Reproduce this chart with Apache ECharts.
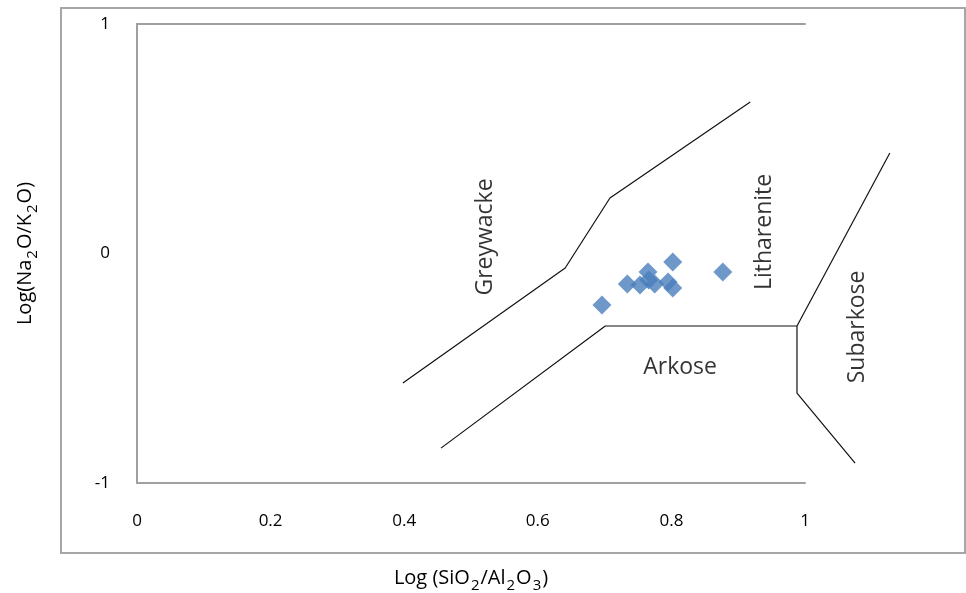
<!DOCTYPE html>
<html>
<head>
<meta charset="utf-8">
<script src="https://cdn.jsdelivr.net/npm/echarts@6/dist/echarts.min.js"></script>
<style>
html,body{margin:0;padding:0;background:#fff;overflow:hidden;}
#c{width:966px;height:593px;}
</style>
</head>
<body>
<div id="c"></div>
<script>
// Sample points: [log(SiO2/Al2O3), log(Na2O/K2O)]
var samplesX = [0.696, 0.734, 0.753, 0.765, 0.766, 0.775, 0.795, 0.802, 0.802, 0.877];
var samplesY = [-0.224, -0.133, -0.137, -0.081, -0.115, -0.133, -0.124, -0.150, -0.037, -0.081];

// Field boundaries (data coordinates)
var boundaryUpperX = [0.398, 0.641, 0.708, 0.918];
var boundaryUpperY = [-0.564, -0.063, 0.242, 0.660];
var boundaryLowerX = [0.455, 0.701, 0.988, 0.988, 1.075];
var boundaryLowerY = [-0.848, -0.316, -0.316, -0.608, -0.913];
var boundarySubX = [0.988, 1.127];
var boundarySubY = [-0.316, 0.438];

// Field names
var fieldNames = ['Greywacke', 'Litharenite', 'Subarkose', 'Arkose'];
var fieldX = [0.521, 0.940, 1.079, 0.813];
var fieldY = [0.072, 0.094, -0.320, -0.495];
var fieldRotate = [90, 90, 90, 0];

var xTicks = [0, 0.2, 0.4, 0.6, 0.8, 1];
var yTicks = [-1, 0, 1];

function zip(a, b) { return a.map(function (v, i) { return [v, b[i]]; }); }

var FONT = '"Open Sans", "Noto Sans", sans-serif';
var AXISCOL = '#a0a0a0';
var PLOT_LEFT = 137, PLOT_TOP = 24, PLOT_W = 668, PLOT_H = 459;
var OVER_MAX = 1.2;

var chart = echarts.init(document.getElementById('c'), null, { width: 966, height: 593 });

function boundary(xs, ys) {
  return {
    type: 'line', xAxisIndex: 2, yAxisIndex: 1, data: zip(xs, ys), symbol: 'none', silent: true,
    lineStyle: { color: '#111', width: 1.2 }, z: 3
  };
}

var richName = {
  a: { fontSize: 20, fontFamily: FONT, color: '#000', lineHeight: 26, verticalAlign: 'bottom' },
  s: { fontSize: 15, fontFamily: FONT, color: '#000', lineHeight: 26, verticalAlign: 'bottom', padding: [0, 1, -5, 1] }
};

var option = {
  animation: false,
  backgroundColor: '#fff',
  grid: [
    { left: PLOT_LEFT, top: PLOT_TOP, width: PLOT_W, height: PLOT_H, containLabel: false, outerBoundsMode: 'none' },
    { left: PLOT_LEFT, top: PLOT_TOP, width: PLOT_W * OVER_MAX, height: PLOT_H, containLabel: false, outerBoundsMode: 'none' }
  ],
  graphic: [{
    type: 'rect', shape: { x: 61, y: 8, width: 904, height: 545 },
    style: { fill: 'none', stroke: '#a6a6a6', lineWidth: 2 }, silent: true, z: 0
  }],
  xAxis: [{
    gridIndex: 0, type: 'value', min: 0, max: 1, interval: 0.2,
    axisLine: { show: true, onZero: false, lineStyle: { color: AXISCOL, width: 2 } },
    axisTick: { show: false }, splitLine: { show: false },
    axisLabel: {
      color: '#000', fontSize: 17, fontFamily: FONT, margin: 30,
      formatter: function (v) { var r = Math.round(v * 10) / 10; return xTicks.indexOf(r) >= 0 ? String(r) : ''; }
    },
    name: '{a|Log (SiO}{s|2}{a|/Al}{s|2}{a|O}{s|3}{a|)}',
    nameLocation: 'middle', nameGap: 79,
    nameTextStyle: { rich: richName }
  }, {
    gridIndex: 0, type: 'value', min: 0, max: 1, position: 'top',
    axisLine: { show: true, onZero: false, lineStyle: { color: AXISCOL, width: 2 } },
    axisTick: { show: false }, axisLabel: { show: false }, splitLine: { show: false }
  }, {
    gridIndex: 1, type: 'value', min: 0, max: OVER_MAX, show: false
  }],
  yAxis: [{
    gridIndex: 0, type: 'value', min: -1, max: 1, interval: 1,
    axisLine: { show: true, onZero: false, lineStyle: { color: AXISCOL, width: 2 } },
    axisTick: { show: false }, splitLine: { show: false },
    axisLabel: { color: '#000', fontSize: 17, fontFamily: FONT, margin: 27 },
    name: '{a|Log(Na}{s|2}{a|O/K}{s|2}{a|O)}',
    nameLocation: 'middle', nameGap: 102, nameRotate: 90,
    nameTextStyle: { rich: richName }
  }, {
    gridIndex: 1, type: 'value', min: -1, max: 1, show: false
  }],
  series: [
    boundary(boundaryUpperX, boundaryUpperY),
    boundary(boundaryLowerX, boundaryLowerY),
    boundary(boundarySubX, boundarySubY),
    {
      type: 'scatter', xAxisIndex: 0, yAxisIndex: 0, data: zip(samplesX, samplesY),
      symbol: 'diamond', symbolSize: 19,
      itemStyle: { color: '#4a7ebb' }, z: 4
    },
    {
      type: 'scatter', xAxisIndex: 2, yAxisIndex: 1, symbolSize: 0, silent: true, z: 5,
      data: fieldNames.map(function (n, i) {
        return {
          name: n, value: [fieldX[i], fieldY[i]],
          label: { show: true, position: 'inside', formatter: n, rotate: fieldRotate[i],
                   color: '#000', fontSize: 23, fontFamily: FONT }
        };
      })
    }
  ]
};
chart.setOption(option);
</script>
</body>
</html>
